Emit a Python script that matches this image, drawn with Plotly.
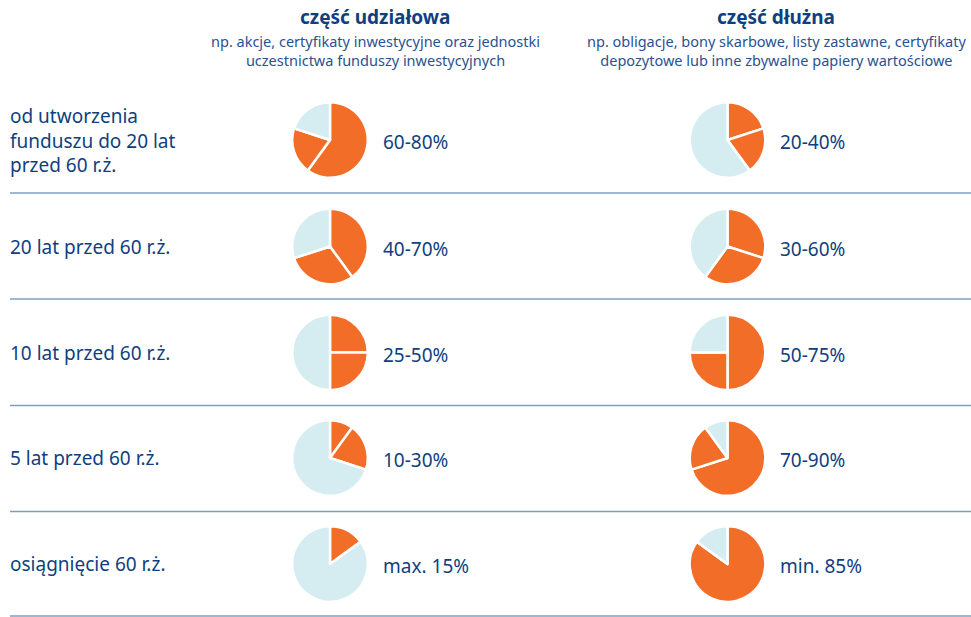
import plotly.graph_objects as go

W, H = 971, 617

row_labels = ["od utworzenia<br>funduszu do 20 lat<br>przed 60 r.ż.",
              "20 lat przed 60 r.ż.",
              "10 lat przed 60 r.ż.",
              "5 lat przed 60 r.ż.",
              "osiągnięcie 60 r.ż."]
equity_min = [60, 40, 25, 10, 0]
equity_extra = [20, 30, 25, 20, 15]
equity_rest = [20, 30, 50, 70, 85]
equity_text = ["60-80%", "40-70%", "25-50%", "10-30%", "max. 15%"]
debt_min = [20, 30, 50, 70, 85]
debt_extra = [20, 30, 25, 20, 0]
debt_rest = [60, 40, 25, 10, 15]
debt_text = ["20-40%", "30-60%", "50-75%", "70-90%", "min. 85%"]

headers = ["część udziałowa", "część dłużna"]
subheaders = ["np. akcje, certyfikaty inwestycyjne oraz jednostki<br>uczestnictwa funduszy inwestycyjnych",
              "np. obligacje, bony skarbowe, listy zastawne, certyfikaty<br>depozytowe lub inne zbywalne papiery wartościowe"]

ORANGE = "#F26D27"
LIGHT = "#D5EDF1"
BLUE = "#0F3F80"
LINE = "#7E9CC4"
FONT = "Noto Sans"

row_cy = [140, 246.5, 352.5, 458, 564]
sep_y = [193, 299, 405.5, 511.5, 616]
pie_cx = [330, 727.5]
R = 37.8

fig = go.Figure()

def add_pie(cx, cy, vals):
    x0 = (cx - R) / W
    x1 = (cx + R) / W
    y0 = 1 - (cy + R) / H
    y1 = 1 - (cy - R) / H
    fig.add_trace(go.Pie(
        values=vals, sort=False, direction="clockwise", rotation=0,
        marker=dict(colors=[ORANGE, ORANGE, LIGHT], line=dict(color="white", width=2.5)),
        textinfo="none", hoverinfo="skip", showlegend=False,
        domain=dict(x=[x0, x1], y=[y0, y1])))

for i in range(5):
    add_pie(pie_cx[0], row_cy[i], [equity_min[i], equity_extra[i], equity_rest[i]])
    add_pie(pie_cx[1], row_cy[i], [debt_min[i], debt_extra[i], debt_rest[i]])

annotations = []
shapes = []
for i in range(5):
    annotations.append(dict(x=8, y=row_cy[i], xref="x", yref="y", text=row_labels[i],
                            showarrow=False, xanchor="left", yanchor="middle", align="left",
                            font=dict(family=FONT, size=19, color=BLUE)))
    annotations.append(dict(x=381, y=row_cy[i] + 2, xref="x", yref="y", text=equity_text[i],
                            showarrow=False, xanchor="left", yanchor="middle",
                            font=dict(family=FONT, size=19, color=BLUE)))
    annotations.append(dict(x=778, y=row_cy[i] + 2, xref="x", yref="y", text=debt_text[i],
                            showarrow=False, xanchor="left", yanchor="middle",
                            font=dict(family=FONT, size=19, color=BLUE)))
    shapes.append(dict(type="line", xref="x", yref="y", x0=10, x1=W, y0=sep_y[i], y1=sep_y[i],
                       line=dict(color=LINE, width=1.5)))

hx = [375, 776]
for j in range(2):
    annotations.append(dict(x=hx[j], y=17, xref="x", yref="y", text="<b>" + headers[j] + "</b>",
                            showarrow=False, xanchor="center", yanchor="middle",
                            font=dict(family=FONT, size=19, color=BLUE)))
    annotations.append(dict(x=hx[j], y=50, xref="x", yref="y", text=subheaders[j],
                            showarrow=False, xanchor="center", yanchor="middle",
                            font=dict(family=FONT, size=14.5, color="#2A5190")))

fig.update_layout(
    width=W, height=H, margin=dict(l=0, r=0, t=0, b=0),
    paper_bgcolor="white", plot_bgcolor="white",
    xaxis=dict(range=[0, W], visible=False, fixedrange=True),
    yaxis=dict(range=[H, 0], visible=False, fixedrange=True),
    annotations=annotations, shapes=shapes)

fig.write_html("out.html", config={"displayModeBar": False})
